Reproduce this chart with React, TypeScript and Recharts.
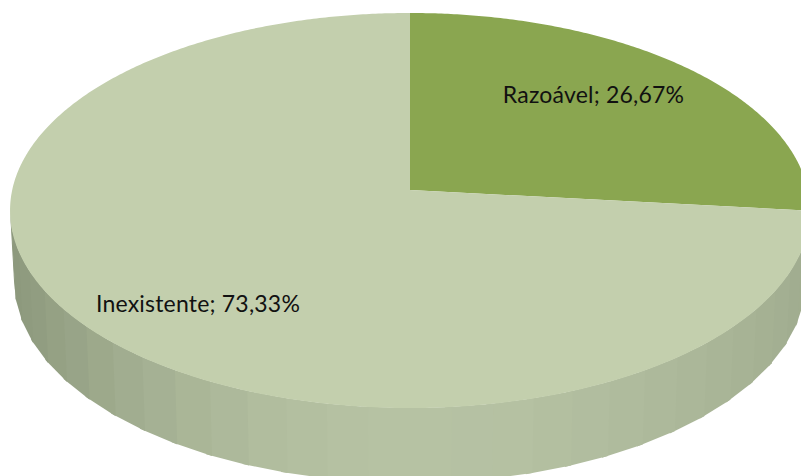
import React from "react";
import { PieChart, Pie, Cell } from "recharts";

// Shares of each rating
const categories = ["Razoável", "Inexistente"];
const shares = [26.67, 73.33];
const sliceColors = ["#8AA650", "#C3CFAD"];

const rows = categories.map((name, i) => ({ name, value: shares[i] }));

// Tilted disc: perspective of the top face and outline of the lower rim
const PERSPECTIVE = 0.1038;
const STRETCH_X = 397.8 / 177;
const STRETCH_Y = 195.4 / 177;
const TOP_RIM = { cy: 210.5, rx: 400, ry: 197.5 };
const LOW_RIM = { cy: 281, rx: 396, ry: 202 };
const BAND_STEP = 6;

// Label anchors: horizontal centre and baseline
const labelAnchors = [
  { x: 593.5, y: 103 },
  { x: 198, y: 312 },
];

type SliceProps = { cx: number; cy: number; outerRadius: number; startAngle: number; endAngle: number; fill: string; index?: number };

const project = (cx: number, cy: number, r: number, angle: number) => {
  const rad = (angle * Math.PI) / 180;
  const X = Math.cos(rad);
  const Y = Math.sin(rad);
  const w = 1 + PERSPECTIVE * Y;
  return [cx + (r * STRETCH_X * X) / w, cy - (r * STRETCH_Y * Y) / w];
};

const mix = (a: number[], b: number[], t: number) =>
  `rgb(${a.map((v, i) => Math.round(v + (b[i] - v) * t)).join(",")})`;

const rimPoint = (cx: number, rim: { cy: number; rx: number; ry: number }, deg: number) => {
  const rad = (deg * Math.PI) / 180;
  return `${(cx + rim.rx * Math.cos(rad)).toFixed(2)},${(rim.cy + rim.ry * Math.sin(rad)).toFixed(2)}`;
};

// Front wall of the disc, shaded in narrow bands that darken toward the sides.
// Each band runs slightly past the next edge so no seam shows between them.
const Wall = ({ cx }: { cx: number }) => {
  const bands = [];
  for (let a = 0; a < 180; a += BAND_STEP) {
    const mid = a + BAND_STEP / 2;
    const c = Math.cos((mid * Math.PI) / 180);
    const side = c < 0 ? [140, 152, 124] : [160, 172, 143];
    const fill = mix([182, 194, 163], side, Math.pow(Math.abs(c), 2));
    const b = Math.min(a + BAND_STEP + 1, 180);
    const points = [
      rimPoint(cx, TOP_RIM, a),
      rimPoint(cx, TOP_RIM, b),
      rimPoint(cx, LOW_RIM, b),
      rimPoint(cx, LOW_RIM, a),
    ].join(" ");
    bands.push(<polygon key={a} points={points} fill={fill} stroke="none" />);
  }
  return <g>{bands}</g>;
};

const Slice = (props: SliceProps) => {
  const { cx, cy, outerRadius, startAngle, endAngle, fill } = props;
  const pts = [`${cx},${cy}`];
  for (let a = startAngle; a > endAngle; a -= 0.5) {
    pts.push(project(cx, cy, outerRadius, a).map((v) => v.toFixed(2)).join(","));
  }
  pts.push(project(cx, cy, outerRadius, endAngle).map((v) => v.toFixed(2)).join(","));
  const hasWall = endAngle - 0 < -90 && startAngle > -90;
  return (
    <g>
      {hasWall && <Wall cx={cx} />}
      <polygon points={pts.join(" ")} fill={fill} stroke="none" />
    </g>
  );
};

const sliceLabel = (props: { index: number; name: string; value: number }) => {
  const { index } = props;
  const text = `${categories[index]}; ${shares[index].toFixed(2).replace(".", ",")}%`;
  return (
    <text
      key={index}
      x={labelAnchors[index].x}
      y={labelAnchors[index].y}
      textAnchor="middle"
      fontFamily="Lato"
      fontWeight={400}
      fontSize={23}
      letterSpacing={0.2}
      fill="#111111"
    >
      {text}
    </text>
  );
};

export default function App() {
  return (
    <div style={{ position: "absolute", left: 0, top: 0, width: 801, height: 476, background: "#fff" }}>
      <PieChart width={801} height={476} margin={{ top: 0, right: 0, bottom: 0, left: 0 }}>
        <Pie
          data={rows}
          dataKey="value"
          nameKey="name"
          cx={410}
          cy={190}
          outerRadius={177}
          startAngle={90}
          endAngle={-270}
          stroke="none"
          isAnimationActive={false}
          shape={Slice as never}
          label={sliceLabel as never}
          labelLine={false}
        >
          {rows.map((r, i) => (
            <Cell key={r.name} fill={sliceColors[i]} />
          ))}
        </Pie>
      </PieChart>
    </div>
  );
}
